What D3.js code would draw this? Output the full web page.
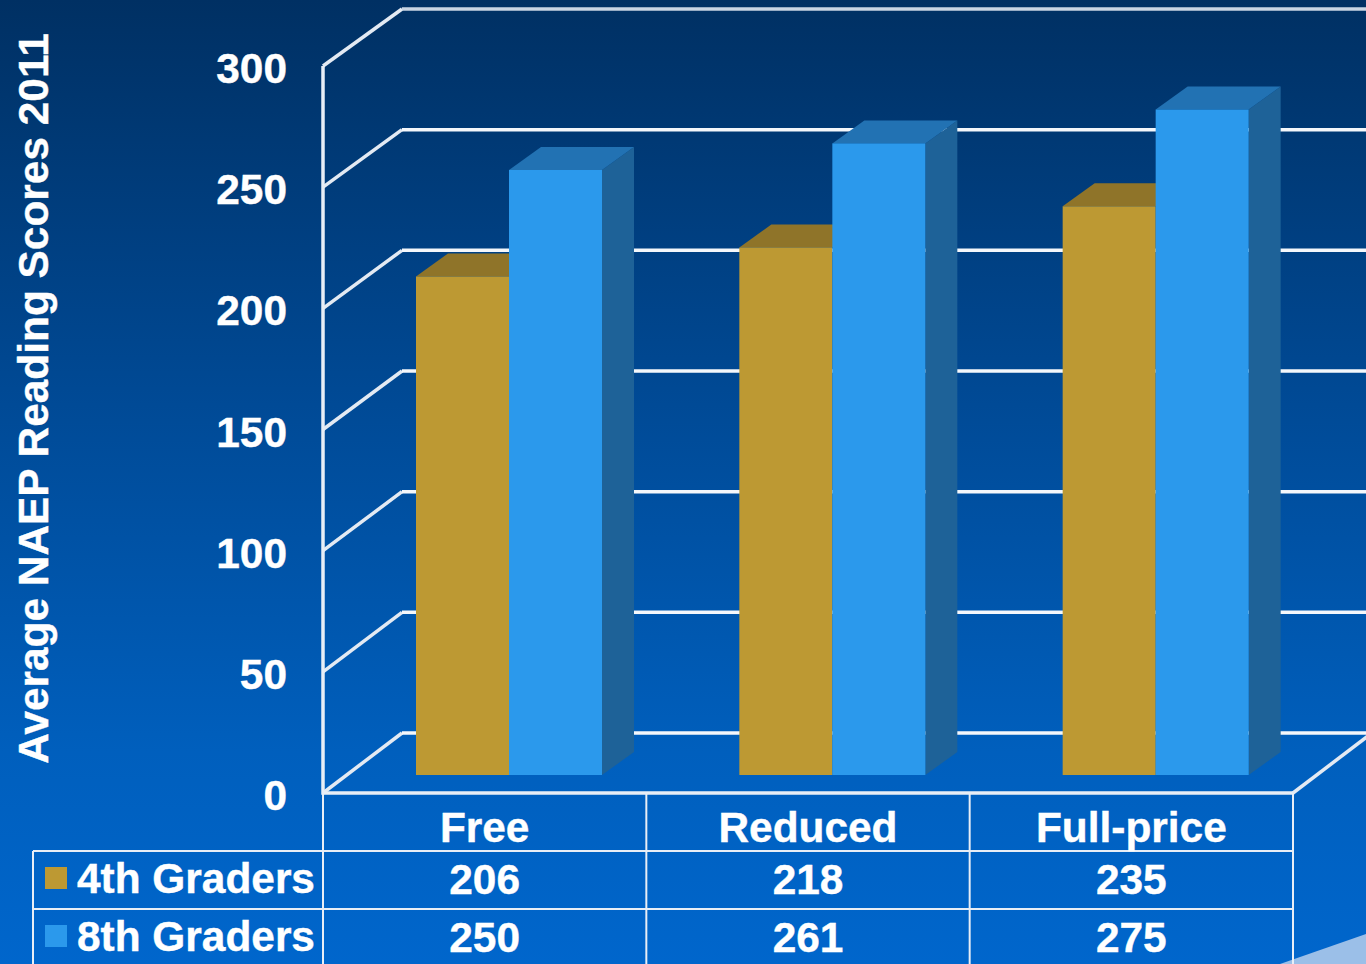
<!DOCTYPE html>
<html>
<head>
<meta charset="utf-8">
<script src="https://cdn.jsdelivr.net/npm/d3@7"></script>
<style>
	html, body {margin: 0; padding: 0; overflow: hidden; background: #0066cc;}
	text {font-family: "Liberation Sans", Arial, sans-serif; font-weight: bold; fill: #fff; stroke: #fff; stroke-width: 0.4px;}
</style>
</head>
<body>
<script>
const categories = ["Free", "Reduced", "Full-price"];
const seriesNames = ["4th Graders", "8th Graders"];
const grade4 = [206, 218, 235];
const grade8 = [250, 261, 275];
const yTicks = [0, 50, 100, 150, 200, 250, 300];
const yTitle = "Average NAEP Reading Scores 2011";

const width = 1366, height = 964;
const fontSize = 42.4;
const colours = [
	{front: "#bd9933", top: "#8f7429"},
	{front: "#2b99ec", top: "#2272b3", side: "#1e6298"}
];

const svg = d3.select("body").append("svg")
	.attr("width", width)
	.attr("height", height)
	.style("display", "block");

// Background gradient, dark navy down to the slide blue
const defs = svg.append("defs");
const grad = defs.append("linearGradient")
	.attr("id", "bg")
	.attr("x1", 0).attr("y1", 0).attr("x2", 0).attr("y2", 1);
grad.append("stop").attr("offset", "0%").attr("stop-color", "#003063");
grad.append("stop").attr("offset", "42%").attr("stop-color", "#004a96");
grad.append("stop").attr("offset", "78%").attr("stop-color", "#005fbd");
grad.append("stop").attr("offset", "100%").attr("stop-color", "#0066cc");
svg.append("rect").attr("width", width).attr("height", height).attr("fill", "url(#bg)");

// Corner swoosh of the slide template
svg.append("path")
	.attr("d", d3.line()([[1280, 964], [1366, 934], [1366, 964]]))
	.attr("fill", "#9bbfe8");

// Front edge of the left wall, back wall and bar plane each have their own scale
const y = d3.scaleLinear().domain([0, 300]).range([793, 66]);
const yBack = d3.scaleLinear().domain([0, 300]).range([733, 9]);
const yBar = d3.scaleLinear().domain([0, 300]).range([775, 49]);
const x = d3.scaleBand().domain(categories).range([323, 1293]);
const wallX = 402;
const barDx = 32, barDy = -23;
const barW = 93;

const grid = svg.append("g").attr("fill", "none");
yTicks.forEach(t => {
	grid.append("path")
		.attr("d", d3.line()([[323, y(t)], [wallX, yBack(t)]]))
		.attr("stroke", "#e3eaf3")
		.attr("stroke-width", 3.5);
	grid.append("path")
		.attr("d", d3.line()([[wallX, yBack(t)], [width, yBack(t)]]))
		.attr("stroke", t == 300 ? "#c9d5e3" : "#f4f7fb")
		.attr("stroke-width", 3.5);
});

// Left wall and floor edges
svg.append("path")
	.attr("d", d3.line()([[323, y(300)], [323, y(0)], [1293, y(0)]]))
	.attr("fill", "none")
	.attr("stroke", "#e8eef6")
	.attr("stroke-width", 3.5);
svg.append("path")
	.attr("d", d3.line()([[1293, y(0)], [1293 + 79, yBack(0)]]))
	.attr("fill", "none")
	.attr("stroke", "#e3eaf3")
	.attr("stroke-width", 3.5);

// Bars, 4th then 8th so the blue one sits on top of the gold top face
const bars = svg.append("g");
function drawBar(x0, v, c) {
	let yBase = yBar(0), yTop = yBar(v);
	if (c.side) {
		bars.append("path")
			.attr("d", d3.line()([[x0 + barW, yTop], [x0 + barW + barDx, yTop + barDy], [x0 + barW + barDx, yBase + barDy], [x0 + barW, yBase]]))
			.attr("fill", c.side);
	}
	bars.append("path")
		.attr("d", d3.line()([[x0, yTop], [x0 + barDx, yTop + barDy], [x0 + barW + barDx, yTop + barDy], [x0 + barW, yTop]]))
		.attr("fill", c.top);
	bars.append("rect")
		.attr("x", x0)
		.attr("y", yTop)
		.attr("width", barW)
		.attr("height", yBase - yTop)
		.attr("fill", c.front);
}
categories.forEach((cat, i) => {
	let x0 = x(cat) + 93;
	drawBar(x0, grade4[i], colours[0]);
	drawBar(x0 + barW, grade8[i], colours[1]);
});

// Y tick labels
svg.append("g").selectAll("text")
	.data(yTicks)
	.join("text")
	.attr("x", 287)
	.attr("y", d => y(d) + 17)
	.attr("text-anchor", "end")
	.attr("font-size", fontSize)
	.text(d => d);

svg.append("text")
	.attr("transform", "translate(47.5,398.5) rotate(-90)")
	.attr("text-anchor", "middle")
	.attr("font-size", fontSize)
	.text(yTitle);

// Data table below the chart
const rows = [793, 851, 909, 964];
const table = svg.append("g").attr("fill", "none").attr("stroke", "#e8eef6").attr("stroke-width", 2);
x.domain().concat("end").forEach((c, i) => {
	let xp = c == "end" ? 1293 : x(c);
	table.append("line").attr("x1", xp).attr("x2", xp).attr("y1", rows[0]).attr("y2", rows[3]);
});
table.append("line").attr("x1", 33).attr("x2", 33).attr("y1", rows[1]).attr("y2", rows[3]);
table.append("line").attr("x1", 33).attr("x2", 1293).attr("y1", rows[1]).attr("y2", rows[1]);
table.append("line").attr("x1", 33).attr("x2", 1293).attr("y1", rows[2]).attr("y2", rows[2]);

categories.forEach(cat => {
	svg.append("text")
		.attr("x", x(cat) + x.bandwidth() / 2)
		.attr("y", 842)
		.attr("text-anchor", "middle")
		.attr("font-size", fontSize)
		.text(cat);
});

[grade4, grade8].forEach((vals, r) => {
	let rowY = rows[r + 1];
	svg.append("rect")
		.attr("x", 45)
		.attr("y", rowY + 16)
		.attr("width", 22)
		.attr("height", 22)
		.attr("fill", colours[r].front);
	svg.append("text")
		.attr("x", 77)
		.attr("y", rowY + 42)
		.attr("font-size", fontSize)
		.text(seriesNames[r]);
	vals.forEach((v, i) => {
		svg.append("text")
			.attr("x", x(categories[i]) + x.bandwidth() / 2)
			.attr("y", rowY + 43)
			.attr("text-anchor", "middle")
			.attr("font-size", fontSize)
			.text(v);
	});
});
</script>
</body>
</html>
